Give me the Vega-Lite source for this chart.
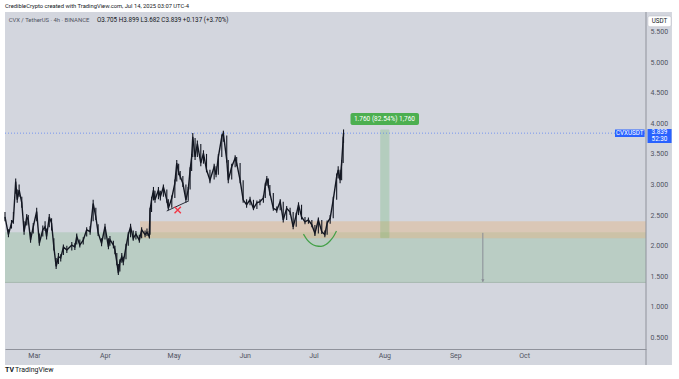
{
  "$schema": "https://vega.github.io/schema/vega-lite/v6.json",
  "width": 641,
  "height": 337,
  "autosize": "none",
  "padding": {"left": 5, "top": 12, "right": 33, "bottom": 30},
  "background": "#ffffff",
  "view": {"stroke": null},
  "config": {"font": "Roboto", "axis": {"labelFont": "Roboto"}},
  "datasets": {
    "candles": [
      {"t": "2025-02-16T08:00:00Z", "c": 2.47, "h": 2.55, "l": 2.40},
      {"t": "2025-02-17T20:00:00Z", "c": 2.18, "h": 2.27, "l": 2.14},
      {"t": "2025-02-19T04:00:00Z", "c": 2.37, "h": 2.42, "l": 2.28},
      {"t": "2025-02-20T00:00:00Z", "c": 2.42, "h": 2.55, "l": 2.36},
      {"t": "2025-02-21T00:00:00Z", "c": 3.05, "h": 3.10, "l": 2.85},
      {"t": "2025-02-21T16:00:00Z", "c": 2.75, "h": 2.92, "l": 2.70},
      {"t": "2025-02-22T12:00:00Z", "c": 2.91, "h": 3.00, "l": 2.80},
      {"t": "2025-02-23T16:00:00Z", "c": 2.70, "h": 2.80, "l": 2.62},
      {"t": "2025-02-24T16:00:00Z", "c": 2.23, "h": 2.40, "l": 2.18},
      {"t": "2025-02-25T20:00:00Z", "c": 2.47, "h": 2.52, "l": 2.33},
      {"t": "2025-02-26T12:00:00Z", "c": 2.42, "h": 2.50, "l": 2.35},
      {"t": "2025-02-27T12:00:00Z", "c": 2.09, "h": 2.22, "l": 2.05},
      {"t": "2025-02-28T16:00:00Z", "c": 2.31, "h": 2.37, "l": 2.20},
      {"t": "2025-03-02T04:00:00Z", "c": 2.56, "h": 2.62, "l": 2.40},
      {"t": "2025-03-03T08:00:00Z", "c": 2.04, "h": 2.20, "l": 2.00},
      {"t": "2025-03-04T20:00:00Z", "c": 2.26, "h": 2.33, "l": 2.15},
      {"t": "2025-03-05T20:00:00Z", "c": 2.31, "h": 2.40, "l": 2.24},
      {"t": "2025-03-06T12:00:00Z", "c": 2.15, "h": 2.28, "l": 2.10},
      {"t": "2025-03-07T16:00:00Z", "c": 2.47, "h": 2.52, "l": 2.30},
      {"t": "2025-03-08T16:00:00Z", "c": 2.37, "h": 2.45, "l": 2.25},
      {"t": "2025-03-09T16:00:00Z", "c": 1.98, "h": 2.12, "l": 1.92},
      {"t": "2025-03-10T16:00:00Z", "c": 1.66, "h": 1.80, "l": 1.62},
      {"t": "2025-03-11T16:00:00Z", "c": 1.82, "h": 1.88, "l": 1.70},
      {"t": "2025-03-12T16:00:00Z", "c": 1.80, "h": 1.86, "l": 1.74},
      {"t": "2025-03-13T20:00:00Z", "c": 1.98, "h": 2.02, "l": 1.85},
      {"t": "2025-03-15T08:00:00Z", "c": 1.93, "h": 2.00, "l": 1.88},
      {"t": "2025-03-17T12:00:00Z", "c": 2.01, "h": 2.06, "l": 1.92},
      {"t": "2025-03-18T20:00:00Z", "c": 1.98, "h": 2.04, "l": 1.93},
      {"t": "2025-03-19T16:00:00Z", "c": 2.15, "h": 2.20, "l": 2.02},
      {"t": "2025-03-21T00:00:00Z", "c": 2.01, "h": 2.10, "l": 1.97},
      {"t": "2025-03-22T12:00:00Z", "c": 2.09, "h": 2.14, "l": 2.02},
      {"t": "2025-03-24T00:00:00Z", "c": 2.26, "h": 2.30, "l": 2.15},
      {"t": "2025-03-25T12:00:00Z", "c": 2.23, "h": 2.32, "l": 2.18},
      {"t": "2025-03-26T20:00:00Z", "c": 2.69, "h": 2.75, "l": 2.40},
      {"t": "2025-03-28T00:00:00Z", "c": 2.47, "h": 2.62, "l": 2.42},
      {"t": "2025-03-29T00:00:00Z", "c": 2.21, "h": 2.35, "l": 2.16},
      {"t": "2025-03-30T12:00:00Z", "c": 2.04, "h": 2.12, "l": 1.99},
      {"t": "2025-04-01T00:00:00Z", "c": 2.31, "h": 2.36, "l": 2.10},
      {"t": "2025-04-02T12:00:00Z", "c": 1.98, "h": 2.12, "l": 1.94},
      {"t": "2025-04-03T04:00:00Z", "c": 2.10, "h": 2.16, "l": 2.00},
      {"t": "2025-04-04T16:00:00Z", "c": 2.01, "h": 2.08, "l": 1.96},
      {"t": "2025-04-05T08:00:00Z", "c": 1.93, "h": 2.00, "l": 1.86},
      {"t": "2025-04-06T04:00:00Z", "c": 1.73, "h": 1.88, "l": 1.68},
      {"t": "2025-04-06T20:00:00Z", "c": 1.55, "h": 1.70, "l": 1.52},
      {"t": "2025-04-07T12:00:00Z", "c": 1.73, "h": 1.78, "l": 1.58},
      {"t": "2025-04-08T08:00:00Z", "c": 1.82, "h": 1.88, "l": 1.72},
      {"t": "2025-04-09T00:00:00Z", "c": 1.73, "h": 1.82, "l": 1.68},
      {"t": "2025-04-10T04:00:00Z", "c": 1.98, "h": 2.03, "l": 1.78},
      {"t": "2025-04-11T04:00:00Z", "c": 2.18, "h": 2.22, "l": 2.00},
      {"t": "2025-04-12T04:00:00Z", "c": 2.31, "h": 2.36, "l": 2.14},
      {"t": "2025-04-13T08:00:00Z", "c": 2.12, "h": 2.25, "l": 2.08},
      {"t": "2025-04-14T12:00:00Z", "c": 2.19, "h": 2.24, "l": 2.10},
      {"t": "2025-04-16T00:00:00Z", "c": 2.09, "h": 2.18, "l": 2.05},
      {"t": "2025-04-17T00:00:00Z", "c": 2.26, "h": 2.30, "l": 2.12},
      {"t": "2025-04-18T12:00:00Z", "c": 2.18, "h": 2.25, "l": 2.14},
      {"t": "2025-04-19T08:00:00Z", "c": 2.22, "h": 2.28, "l": 2.16},
      {"t": "2025-04-20T08:00:00Z", "c": 2.15, "h": 2.24, "l": 2.12},
      {"t": "2025-04-20T16:00:00Z", "c": 2.58, "h": 2.62, "l": 2.18},
      {"t": "2025-04-21T08:00:00Z", "c": 2.75, "h": 2.80, "l": 2.55},
      {"t": "2025-04-22T04:00:00Z", "c": 2.91, "h": 2.96, "l": 2.74},
      {"t": "2025-04-22T20:00:00Z", "c": 2.75, "h": 2.90, "l": 2.70},
      {"t": "2025-04-24T08:00:00Z", "c": 2.91, "h": 2.96, "l": 2.76},
      {"t": "2025-04-25T04:00:00Z", "c": 2.80, "h": 2.90, "l": 2.74},
      {"t": "2025-04-26T12:00:00Z", "c": 2.96, "h": 3.00, "l": 2.80},
      {"t": "2025-04-28T00:00:00Z", "c": 2.75, "h": 2.92, "l": 2.70},
      {"t": "2025-04-28T16:00:00Z", "c": 2.61, "h": 2.76, "l": 2.58},
      {"t": "2025-04-30T04:00:00Z", "c": 2.78, "h": 2.82, "l": 2.62},
      {"t": "2025-05-01T12:00:00Z", "c": 3.02, "h": 3.08, "l": 2.78},
      {"t": "2025-05-02T08:00:00Z", "c": 3.35, "h": 3.40, "l": 3.05},
      {"t": "2025-05-03T04:00:00Z", "c": 3.20, "h": 3.34, "l": 3.15},
      {"t": "2025-05-03T20:00:00Z", "c": 3.13, "h": 3.22, "l": 3.08},
      {"t": "2025-05-05T00:00:00Z", "c": 3.02, "h": 3.14, "l": 2.96},
      {"t": "2025-05-06T08:00:00Z", "c": 2.75, "h": 3.00, "l": 2.70},
      {"t": "2025-05-07T08:00:00Z", "c": 2.91, "h": 2.96, "l": 2.74},
      {"t": "2025-05-08T04:00:00Z", "c": 3.24, "h": 3.28, "l": 2.92},
      {"t": "2025-05-08T20:00:00Z", "c": 3.45, "h": 3.50, "l": 3.22},
      {"t": "2025-05-09T08:00:00Z", "c": 3.78, "h": 3.84, "l": 3.45},
      {"t": "2025-05-10T08:00:00Z", "c": 3.45, "h": 3.76, "l": 3.40},
      {"t": "2025-05-11T08:00:00Z", "c": 3.67, "h": 3.72, "l": 3.45},
      {"t": "2025-05-12T20:00:00Z", "c": 3.35, "h": 3.66, "l": 3.30},
      {"t": "2025-05-14T00:00:00Z", "c": 3.51, "h": 3.56, "l": 3.34},
      {"t": "2025-05-15T08:00:00Z", "c": 3.24, "h": 3.50, "l": 3.20},
      {"t": "2025-05-16T20:00:00Z", "c": 3.07, "h": 3.24, "l": 3.02},
      {"t": "2025-05-18T16:00:00Z", "c": 3.29, "h": 3.34, "l": 3.08},
      {"t": "2025-05-19T12:00:00Z", "c": 3.16, "h": 3.30, "l": 3.12},
      {"t": "2025-05-20T12:00:00Z", "c": 3.45, "h": 3.50, "l": 3.16},
      {"t": "2025-05-22T00:00:00Z", "c": 3.78, "h": 3.82, "l": 3.45},
      {"t": "2025-05-22T16:00:00Z", "c": 3.84, "h": 3.88, "l": 3.70},
      {"t": "2025-05-24T04:00:00Z", "c": 3.40, "h": 3.80, "l": 3.36},
      {"t": "2025-05-24T20:00:00Z", "c": 3.07, "h": 3.40, "l": 3.02},
      {"t": "2025-05-26T08:00:00Z", "c": 3.29, "h": 3.34, "l": 3.08},
      {"t": "2025-05-27T20:00:00Z", "c": 3.43, "h": 3.48, "l": 3.28},
      {"t": "2025-05-28T12:00:00Z", "c": 3.35, "h": 3.45, "l": 3.30},
      {"t": "2025-05-30T00:00:00Z", "c": 3.07, "h": 3.35, "l": 3.02},
      {"t": "2025-05-31T08:00:00Z", "c": 2.75, "h": 3.07, "l": 2.70},
      {"t": "2025-06-01T20:00:00Z", "c": 2.67, "h": 2.76, "l": 2.62},
      {"t": "2025-06-03T08:00:00Z", "c": 2.75, "h": 2.80, "l": 2.66},
      {"t": "2025-06-04T20:00:00Z", "c": 2.61, "h": 2.75, "l": 2.58},
      {"t": "2025-06-06T08:00:00Z", "c": 2.70, "h": 2.74, "l": 2.60},
      {"t": "2025-06-07T16:00:00Z", "c": 2.72, "h": 2.76, "l": 2.66},
      {"t": "2025-06-09T04:00:00Z", "c": 2.78, "h": 2.82, "l": 2.70},
      {"t": "2025-06-10T00:00:00Z", "c": 2.99, "h": 3.03, "l": 2.78},
      {"t": "2025-06-10T16:00:00Z", "c": 3.10, "h": 3.14, "l": 2.98},
      {"t": "2025-06-11T08:00:00Z", "c": 2.99, "h": 3.10, "l": 2.95},
      {"t": "2025-06-12T00:00:00Z", "c": 2.86, "h": 2.99, "l": 2.82},
      {"t": "2025-06-13T12:00:00Z", "c": 2.61, "h": 2.86, "l": 2.57},
      {"t": "2025-06-15T00:00:00Z", "c": 2.58, "h": 2.64, "l": 2.54},
      {"t": "2025-06-16T12:00:00Z", "c": 2.72, "h": 2.76, "l": 2.58},
      {"t": "2025-06-17T20:00:00Z", "c": 2.42, "h": 2.72, "l": 2.38},
      {"t": "2025-06-19T08:00:00Z", "c": 2.61, "h": 2.65, "l": 2.42},
      {"t": "2025-06-20T20:00:00Z", "c": 2.55, "h": 2.62, "l": 2.50},
      {"t": "2025-06-22T04:00:00Z", "c": 2.31, "h": 2.55, "l": 2.27},
      {"t": "2025-06-23T12:00:00Z", "c": 2.50, "h": 2.54, "l": 2.31},
      {"t": "2025-06-24T12:00:00Z", "c": 2.67, "h": 2.71, "l": 2.50},
      {"t": "2025-06-25T20:00:00Z", "c": 2.47, "h": 2.67, "l": 2.43},
      {"t": "2025-06-27T08:00:00Z", "c": 2.39, "h": 2.47, "l": 2.35},
      {"t": "2025-06-28T20:00:00Z", "c": 2.42, "h": 2.46, "l": 2.36},
      {"t": "2025-06-30T08:00:00Z", "c": 2.34, "h": 2.42, "l": 2.30},
      {"t": "2025-07-01T16:00:00Z", "c": 2.20, "h": 2.34, "l": 2.16},
      {"t": "2025-07-03T04:00:00Z", "c": 2.42, "h": 2.46, "l": 2.20},
      {"t": "2025-07-04T16:00:00Z", "c": 2.23, "h": 2.42, "l": 2.19},
      {"t": "2025-07-06T00:00:00Z", "c": 2.18, "h": 2.25, "l": 2.14},
      {"t": "2025-07-07T00:00:00Z", "c": 2.37, "h": 2.41, "l": 2.18},
      {"t": "2025-07-08T08:00:00Z", "c": 2.45, "h": 2.50, "l": 2.36},
      {"t": "2025-07-09T16:00:00Z", "c": 2.75, "h": 2.80, "l": 2.45},
      {"t": "2025-07-11T04:00:00Z", "c": 3.13, "h": 3.18, "l": 2.75},
      {"t": "2025-07-11T20:00:00Z", "c": 3.24, "h": 3.30, "l": 3.10},
      {"t": "2025-07-12T16:00:00Z", "c": 3.07, "h": 3.24, "l": 3.02},
      {"t": "2025-07-13T08:00:00Z", "c": 3.35, "h": 3.40, "l": 3.07},
      {"t": "2025-07-14T00:00:00Z", "c": 3.73, "h": 3.78, "l": 3.35},
      {"t": "2025-07-14T04:00:00Z", "c": 3.84, "h": 3.90, "l": 3.68}
    ]
  },
  "encoding": {
    "x": {
      "field": "t", "type": "temporal",
      "scale": {"type": "utc", "nice": false, "domain": [{"year": 2025, "month": 2, "date": 16, "hours": 8, "utc": true}, {"year": 2025, "month": 11, "date": 23, "hours": 6, "utc": true}]},
      "axis": {
        "values": [{"year": 2025, "month": 3, "date": 1, "utc": true}, {"year": 2025, "month": 4, "date": 1, "utc": true}, {"year": 2025, "month": 5, "date": 1, "utc": true}, {"year": 2025, "month": 6, "date": 1, "utc": true}, {"year": 2025, "month": 7, "date": 1, "utc": true}, {"year": 2025, "month": 8, "date": 1, "utc": true}, {"year": 2025, "month": 9, "date": 1, "utc": true}, {"year": 2025, "month": 10, "date": 1, "utc": true}],
        "format": "%b", "title": null, "ticks": false, "grid": false, "domain": true, "domainColor": "#8f929b", "domainWidth": 1,
        "labelFontSize": 7, "labelColor": "#50535e", "labelPadding": 6, "labelBaseline": "middle", "labelFlush": false, "labelOverlap": false, "zindex": 1
      }
    },
    "y": {
      "field": "p", "type": "quantitative",
      "scale": {"domain": [0.312, 5.819], "nice": false, "zero": false},
      "axis": {
        "orient": "right", "values": [0.5, 1, 1.5, 2, 2.5, 3, 3.5, 4, 4.5, 5, 5.5], "format": ".3f", "title": null,
        "ticks": false, "domain": false, "grid": false, "labelFontSize": 7, "labelColor": "#50535e", "labelPadding": 4, "labelAlign": "left", "zindex": 1
      }
    }
  },
  "layer": [
    {
      "data": {"values": [{"t": "2025-02-16T08:00:00Z", "t2": "2025-12-04T14:00:00Z", "p": 0.051, "p2": 5.819}]},
      "mark": {"type": "rect", "color": "#d3d6de"},
      "encoding": {"x2": {"field": "t2"}, "y2": {"field": "p2"}}
    },
    {
      "data": {"values": [
        {"zone": "support", "t": "2025-02-16T08:00:00Z", "t2": "2025-11-23T06:00:00Z", "p": 1.40, "p2": 2.22},
        {"zone": "demand", "t": "2025-04-16T07:00:00Z", "t2": "2025-11-23T06:00:00Z", "p": 2.12, "p2": 2.40}
      ]},
      "mark": {"type": "rect"},
      "encoding": {
        "x2": {"field": "t2"}, "y2": {"field": "p2"},
        "color": {"field": "zone", "type": "nominal", "scale": {"domain": ["support", "demand"], "range": ["#bacdc4", "#e2b585"]}, "legend": null},
        "opacity": {"field": "zone", "type": "nominal", "scale": {"domain": ["support", "demand"], "range": [1, 0.45]}, "legend": null}
      }
    },
    {
      "data": {"values": [{"t": "2025-02-16T08:00:00Z", "t2": "2025-11-23T06:00:00Z", "p": 1.40}]},
      "mark": {"type": "rule", "color": "#a8b9b0", "strokeWidth": 1},
      "encoding": {"x2": {"field": "t2"}}
    },
    {
      "data": {"values": [{"t": "2025-07-30T10:00:00Z", "t2": "2025-08-03T00:00:00Z", "p": 2.132, "p2": 3.892}]},
      "mark": {"type": "rect", "color": "#4caf50", "opacity": 0.22, "stroke": "#4caf50", "strokeOpacity": 0.9, "strokeWidth": 1},
      "encoding": {"x2": {"field": "t2"}, "y2": {"field": "p2"}}
    },
    {
      "data": {"values": [{"t": "2025-02-16T08:00:00Z", "t2": "2025-11-23T06:00:00Z", "p": 3.839}]},
      "mark": {"type": "rule", "color": "#2962ff", "opacity": 0.55, "strokeWidth": 1, "strokeDash": [1, 2]},
      "encoding": {"x2": {"field": "t2"}}
    },
    {
      "data": {"values": [{"t": "2025-09-13T00:00:00Z", "p": 2.21, "p2": 1.41}]},
      "mark": {"type": "rule", "color": "#8a8d96", "strokeWidth": 1},
      "encoding": {"y2": {"field": "p2"}}
    },
    {
      "data": {"values": [{"t": "2025-09-13T00:00:00Z", "p": 1.43}]},
      "mark": {"type": "point", "shape": "triangle-down", "filled": true, "size": 10, "color": "#8a8d96", "opacity": 1},
      "encoding": {}
    },
    {
      "data": {"values": [
        {"t": "2025-06-26T16:00:00Z", "p": 2.19},
        {"t": "2025-06-28T05:00:00Z", "p": 2.10},
        {"t": "2025-06-29T23:00:00Z", "p": 2.036},
        {"t": "2025-07-02T03:00:00Z", "p": 1.998},
        {"t": "2025-07-04T08:00:00Z", "p": 1.99},
        {"t": "2025-07-06T12:00:00Z", "p": 2.02},
        {"t": "2025-07-08T06:00:00Z", "p": 2.077},
        {"t": "2025-07-09T19:00:00Z", "p": 2.15},
        {"t": "2025-07-11T02:00:00Z", "p": 2.24}
      ]},
      "mark": {"type": "line", "color": "#43a047", "strokeWidth": 1.2, "interpolate": "monotone"},
      "encoding": {}
    },
    {
      "data": {"name": "candles"},
      "mark": {"type": "rule", "color": "#131722", "strokeWidth": 1.1},
      "encoding": {
        "y": {"field": "l", "type": "quantitative", "scale": {"domain": [0.312, 5.819], "nice": false, "zero": false},
          "axis": {"orient": "right", "values": [0.5, 1, 1.5, 2, 2.5, 3, 3.5, 4, 4.5, 5, 5.5], "format": ".3f", "title": null, "ticks": false, "domain": false, "grid": false, "labelFontSize": 7, "labelColor": "#50535e", "labelPadding": 4, "labelAlign": "left", "zindex": 1}},
        "y2": {"field": "h"}
      }
    },
    {
      "data": {"name": "candles"},
      "mark": {"type": "line", "color": "#131722", "strokeWidth": 1.4},
      "encoding": {
        "y": {"field": "c", "type": "quantitative", "scale": {"domain": [0.312, 5.819], "nice": false, "zero": false},
          "axis": {"orient": "right", "values": [0.5, 1, 1.5, 2, 2.5, 3, 3.5, 4, 4.5, 5, 5.5], "format": ".3f", "title": null, "ticks": false, "domain": false, "grid": false, "labelFontSize": 7, "labelColor": "#50535e", "labelPadding": 4, "labelAlign": "left", "zindex": 1}}
      }
    },
    {
      "data": {"values": [{"t": "2025-04-27T23:00:00Z", "p": 2.567}, {"t": "2025-05-07T16:30:00Z", "p": 2.735}]},
      "mark": {"type": "line", "color": "#2a2e39", "strokeWidth": 1},
      "encoding": {}
    },
    {
      "data": {"values": [{"t": "2025-05-02T18:00:00Z", "p": 2.583}]},
      "mark": {"type": "point", "shape": "M-1,-1L1,1M-1,1L1,-1", "filled": false, "stroke": "#f23645", "strokeWidth": 1.4, "size": 40, "opacity": 1},
      "encoding": {}
    },
    {
      "data": {"values": [{"t": "2025-07-17T05:00:00Z", "t2": "2025-08-16T03:00:00Z", "p": 3.972, "p2": 4.168}]},
      "mark": {"type": "rect", "color": "#4caf50", "cornerRadius": 2},
      "encoding": {"x2": {"field": "t2"}, "y2": {"field": "p2"}}
    },
    {
      "data": {"values": [{"t": "2025-08-01T01:00:00Z", "p": 4.07, "label": "1.760 (82.54%) 1,760"}]},
      "mark": {"type": "text", "color": "#ffffff", "fontSize": 6.5, "align": "center", "baseline": "middle"},
      "encoding": {"text": {"field": "label"}}
    },
    {
      "data": {"values": [
        {"t": "2025-11-09T17:00:00Z", "t2": "2025-11-22T15:00:00Z", "p": 3.776, "p2": 3.899},
        {"t": "2025-11-23T22:00:00Z", "t2": "2025-12-04T10:00:00Z", "p": 3.678, "p2": 3.907}
      ]},
      "mark": {"type": "rect", "color": "#2962ff"},
      "encoding": {"x2": {"field": "t2"}, "y2": {"field": "p2"}}
    },
    {
      "data": {"values": [
        {"t": "2025-11-16T04:00:00Z", "p": 3.838, "label": "CVXUSDT"},
        {"t": "2025-11-29T03:00:00Z", "p": 3.853, "label": "3.839"},
        {"t": "2025-11-29T03:00:00Z", "p": 3.744, "label": "52:30"}
      ]},
      "mark": {"type": "text", "color": "#ffffff", "fontSize": 6.3, "align": "center", "baseline": "middle"},
      "encoding": {"text": {"field": "label"}}
    },
    {
      "data": {"values": [{"t": "2025-11-24T02:00:00Z", "t2": "2025-12-04T05:00:00Z", "p": 5.578, "p2": 5.753}]},
      "mark": {"type": "rect", "color": "#ffffff", "stroke": "#b2b5be", "strokeWidth": 0.5, "cornerRadius": 2},
      "encoding": {"x2": {"field": "t2"}, "y2": {"field": "p2"}}
    },
    {
      "data": {"values": [{"t": "2025-11-29T03:00:00Z", "p": 5.668, "label": "USDT"}]},
      "mark": {"type": "text", "color": "#131722", "fontSize": 6.3, "align": "center", "baseline": "middle"},
      "encoding": {"text": {"field": "label"}}
    },
    {
      "data": {"values": [{"t": "2025-11-23T06:00:00Z", "p": 0.051, "p2": 5.819}]},
      "mark": {"type": "rule", "color": "#8f929b", "strokeWidth": 1},
      "encoding": {"y2": {"field": "p2"}}
    },
    {
      "data": {"values": [{"t": "2025-02-16T08:00:00Z", "p": 5.917, "label": "CredibleCrypto created with TradingView.com, Jul 14, 2025 03:07 UTC-4"}]},
      "mark": {"type": "text", "color": "#131722", "fontSize": 5.8, "align": "left", "baseline": "middle"},
      "encoding": {"text": {"field": "label"}}
    },
    {
      "data": {"values": [{"t": "2025-02-17T22:00:00Z", "p": 5.688, "label": "CVX / TetherUS · 4h · BINANCE"}]},
      "mark": {"type": "text", "color": "#50535e", "fontSize": 5.9, "align": "left", "baseline": "middle"},
      "encoding": {"text": {"field": "label"}}
    },
    {
      "data": {"values": [{"t": "2025-03-28T12:00:00Z", "p": 5.688, "label": "O3.705  H3.899  L3.682  C3.839  +0.137 (+3.70%)"}]},
      "mark": {"type": "text", "color": "#131722", "fontSize": 6.3, "align": "left", "baseline": "middle"},
      "encoding": {"text": {"field": "label"}}
    },
    {
      "data": {"values": [{"t": "2025-02-16T08:00:00Z", "p": -0.03, "label": "TV"}]},
      "mark": {"type": "text", "color": "#131722", "fontSize": 7, "fontWeight": "bold", "align": "left", "baseline": "middle"},
      "encoding": {"text": {"field": "label"}}
    },
    {
      "data": {"values": [{"t": "2025-02-20T17:00:00Z", "p": -0.03, "label": "TradingView"}]},
      "mark": {"type": "text", "color": "#131722", "fontSize": 7, "align": "left", "baseline": "middle"},
      "encoding": {"text": {"field": "label"}}
    }
  ]
}
